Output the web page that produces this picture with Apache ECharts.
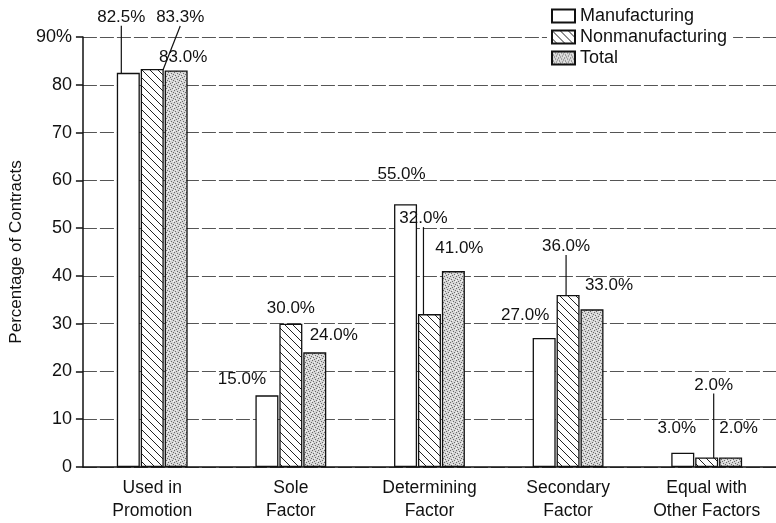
<!DOCTYPE html>
<html>
<head>
<meta charset="utf-8">
<script src="https://cdn.jsdelivr.net/npm/echarts@6/dist/echarts.min.js"></script>
<style>
  html, body { margin: 0; padding: 0; background: #fff; }
  #chart { width: 776px; height: 523px; }
</style>
</head>
<body>
<div id="chart"></div>
<script>
const categories = ['Used in\nPromotion', 'Sole\nFactor', 'Determining\nFactor', 'Secondary\nFactor', 'Equal with\nOther Factors'];
const manufacturing = [82.5, 15.0, 55.0, 27.0, 3.0];
const nonmanufacturing = [83.3, 30.0, 32.0, 36.0, 2.0];
const total = [83.0, 24.0, 41.0, 33.0, 2.0];
const yTicks = [0, 10, 20, 30, 40, 50, 60, 70, 80, 90];

// label nudges (layout only): [dx, dy] per bar, and which ones get a leader line
const labelNudge = [
  [[-7, -42], [-25, -3], [-4, -16], [-19, -9], [-6, -11]],
  [[28, -38], [0, -2], [-6, -82], [-2, -35], [7, -59]],
  [[7, 0], [19, -4], [6, -9], [17, -11], [8, -16]]
];
const leader = [
  [true, false, false, false, false],
  [true, false, true, true, true],
  [false, false, false, false, false]
];

function hatchPattern() {
  const c = document.createElement('canvas');
  c.width = 8; c.height = 8;
  const ctx = c.getContext('2d');
  ctx.fillStyle = '#fff';
  ctx.fillRect(0, 0, 8, 8);
  ctx.strokeStyle = '#222';
  ctx.lineWidth = 1;
  ctx.beginPath();
  ctx.moveTo(-1, -1); ctx.lineTo(9, 9);
  ctx.moveTo(-5, 3); ctx.lineTo(1, 9);
  ctx.moveTo(3, -5); ctx.lineTo(9, 1);
  ctx.stroke();
  return c;
}

function stipplePattern() {
  const c = document.createElement('canvas');
  c.width = 6; c.height = 6;
  const ctx = c.getContext('2d');
  ctx.fillStyle = '#d6d6d6';
  ctx.fillRect(0, 0, 6, 6);
  ctx.fillStyle = '#6a6a6a';
  [[0, 0], [3, 1], [1, 3], [4, 4], [5, 2], [2, 5]].forEach(p => ctx.fillRect(p[0], p[1], 1, 1));
  ctx.fillStyle = '#f4f4f4';
  [[2, 2], [5, 5], [0, 4]].forEach(p => ctx.fillRect(p[0], p[1], 1, 1));
  return c;
}

const font = 'Liberation Sans, Arial, sans-serif';
const ink = '#111';
const fills = [
  '#ffffff',
  { image: hatchPattern(), repeat: 'repeat' },
  { image: stipplePattern(), repeat: 'repeat' }
];

function makeSeries(name, values, idx) {
  return {
    name: name,
    type: 'bar',
    barWidth: 23,
    barGap: '4%',
    data: values.map((v, i) => ({
      value: v,
      labelLine: { show: leader[idx][i] }
    })),
    itemStyle: { color: fills[idx], borderColor: ink, borderWidth: 1.3 },
    label: {
      show: true,
      position: 'top',
      distance: 5,
      formatter: p => p.value.toFixed(1) + '%',
      color: ink,
      fontSize: 17,
      fontFamily: font
    },
    labelLine: { show: false, lineStyle: { color: ink, width: 1.2 } },
    labelLayout: function (params) {
      const n = labelNudge[idx][params.dataIndex];
      return { dx: n[0], dy: n[1] };
    }
  };
}

const chart = echarts.init(document.getElementById('chart'));
chart.setOption({
  backgroundColor: '#fff',
  animation: false,
  textStyle: { fontFamily: font },
  grid: { left: 82, top: 37, bottom: 52, width: 700 },
  legend: {
    orient: 'vertical',
    left: 547,
    top: 4,
    itemWidth: 23,
    itemHeight: 13,
    itemGap: 3,
    padding: [3, 6, 3, 4],
    backgroundColor: '#fff',
    icon: 'rect',
    textStyle: { fontSize: 18, color: ink, fontFamily: font },
    data: ['Manufacturing', 'Nonmanufacturing', 'Total']
  },
  xAxis: {
    type: 'category',
    data: categories,
    axisLine: { lineStyle: { color: ink, width: 1.5 } },
    axisTick: { show: false },
    axisLabel: { color: ink, fontSize: 17.5, lineHeight: 23, margin: 10, fontFamily: font, interval: 0 }
  },
  yAxis: {
    type: 'value',
    min: yTicks[0],
    max: yTicks[yTicks.length - 1],
    interval: 10,
    name: 'Percentage of Contracts',
    nameLocation: 'middle',
    nameGap: 53,
    nameTextStyle: { fontSize: 17, color: ink, fontFamily: font },
    axisLine: { show: true, lineStyle: { color: ink, width: 1.5 } },
    axisTick: { show: true, length: 7, lineStyle: { color: ink, width: 1.5 } },
    axisLabel: {
      fontSize: 18,
      color: ink,
      margin: 11,
      fontFamily: font,
      formatter: v => v === 90 ? '90%' : String(v)
    },
    splitLine: { show: true, lineStyle: { color: '#555', width: 1, type: [14, 3] } }
  },
  series: [
    makeSeries('Manufacturing', manufacturing, 0),
    makeSeries('Nonmanufacturing', nonmanufacturing, 1),
    makeSeries('Total', total, 2)
  ]
});
</script>
</body>
</html>
